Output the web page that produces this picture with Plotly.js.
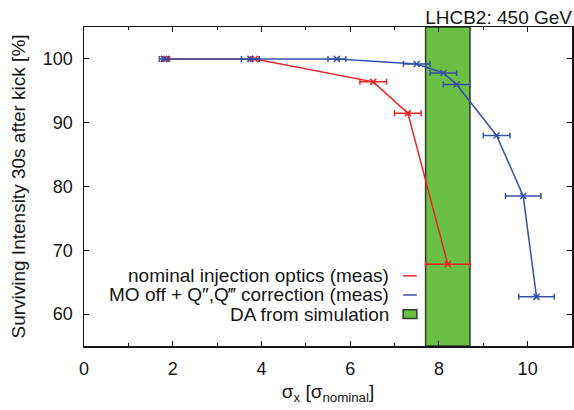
<!DOCTYPE html>
<html>
<head>
<meta charset="utf-8">
<script src="https://cdn.plot.ly/plotly-3.0.1.min.js"></script>
<style>html,body{margin:0;padding:0;background:#fff;}#chart{width:574px;height:410px;}</style>
</head>
<body>
<div id="chart"></div>
<script>
// Data
const nomX = [1.85, 3.85, 6.52, 7.3, 8.2];
const nomY = [100, 100, 96.4, 91.5, 67.8];
const nomErr = [0.08, 0.1, 0.3, 0.3, 0.5];

const moX = [1.8, 3.75, 5.7, 7.5, 8.1, 8.4, 9.3, 9.9, 10.2];
const moY = [100, 100, 100, 99.2, 97.8, 96.0, 88.0, 78.5, 62.7];
const moErr = [0.1, 0.2, 0.2, 0.3, 0.3, 0.3, 0.3, 0.4, 0.4];

const daRange = [7.7, 8.7];

const legendLabels = [
  "nominal injection optics (meas)",
  "MO off + Q\u2033,Q\u2034 correction (meas)",
  "DA from simulation"
];
const xTicks = [0, 2, 4, 6, 8, 10];
const yTicks = [60, 70, 80, 90, 100];

const RED = "#ee2222";
const BLUE = "#3551a8";
const GREEN = "#6cbf45";
const INK = "#151515";
const FONT = "Liberation Sans, Arial, Helvetica, sans-serif";

const traces = [
  {
    x: nomX, y: nomY, type: "scatter", mode: "lines+markers",
    line: {color: RED, width: 1.5},
    marker: {symbol: "x-thin", size: 6, line: {color: RED, width: 1.5}, color: RED},
    error_x: {type: "data", array: nomErr, visible: true, color: RED, thickness: 1.5, width: 3},
    showlegend: false, hoverinfo: "skip"
  },
  {
    x: moX, y: moY, type: "scatter", mode: "lines+markers",
    line: {color: BLUE, width: 1.5},
    marker: {symbol: "x-thin", size: 6, line: {color: BLUE, width: 1.5}, color: BLUE},
    error_x: {type: "data", array: moErr, visible: true, color: BLUE, thickness: 1.5, width: 3},
    showlegend: false, hoverinfo: "skip"
  }
];

// legend layout (paper coords)
const legTextX = 0.629;
const legSymX0 = 0.654, legSymX1 = 0.682;
const rowY = [0.220, 0.160, 0.100];

const shapes = [
  {type: "rect", xref: "x", yref: "paper", x0: daRange[0], x1: daRange[1], y0: 0, y1: 1,
   fillcolor: GREEN, line: {color: "#2e3a28", width: 1.5}, layer: "below"},
  {type: "line", xref: "paper", yref: "paper", x0: legSymX0, x1: legSymX1, y0: rowY[0], y1: rowY[0],
   line: {color: RED, width: 1.5}},
  {type: "line", xref: "paper", yref: "paper", x0: legSymX0, x1: legSymX1, y0: rowY[1], y1: rowY[1],
   line: {color: BLUE, width: 1.5}},
  {type: "rect", xref: "paper", yref: "paper", x0: legSymX0, x1: legSymX1, y0: rowY[2] - 0.014, y1: rowY[2] + 0.014,
   fillcolor: GREEN, line: {color: "#2e3a28", width: 1.5}}
];

const annotations = legendLabels.map((t, i) => ({
  text: t, xref: "paper", yref: "paper", x: legTextX, y: rowY[i],
  xanchor: "right", yanchor: "middle", showarrow: false,
  font: {family: FONT, size: 19, color: INK}
}));

const axisCommon = {
  showline: true, linecolor: INK, linewidth: 1.5, mirror: "allticks",
  ticks: "inside", ticklen: 5, tickwidth: 1, tickcolor: INK,
  showgrid: false, zeroline: false,
  tickfont: {family: FONT, size: 18, color: INK},
  ticklabelstandoff: 6
};

const layout = {
  width: 574, height: 410,
  margin: {l: 84, r: 2, t: 27, b: 64},
  paper_bgcolor: "#fff", plot_bgcolor: "#fff",
  font: {family: FONT, color: INK},
  showlegend: false,
  title: {
    text: "LHCB2: 450 GeV", xref: "paper", x: 1, xanchor: "right",
    yref: "container", y: 0.958, yanchor: "middle",
    font: {family: FONT, size: 19, color: INK}
  },
  xaxis: Object.assign({}, axisCommon, {
    range: [0, 11], tickvals: xTicks,
    minor: {dtick: 1, tick0: 0, ticks: "inside", ticklen: 3, tickcolor: INK, tickwidth: 1, showgrid: false},
    title: {text: "\u03c3<sub>x</sub> [\u03c3<sub>nominal</sub>]", font: {family: FONT, size: 19, color: INK}, standoff: 6}
  }),
  yaxis: Object.assign({}, axisCommon, {
    range: [55, 105], tickvals: yTicks,
    title: {text: "Surviving Intensity 30s after kick [%]", font: {family: FONT, size: 19, color: INK}, standoff: 12}
  }),
  shapes: shapes,
  annotations: annotations
};

Plotly.newPlot("chart", traces, layout, {staticPlot: true, displayModeBar: false});
</script>
</body>
</html>
